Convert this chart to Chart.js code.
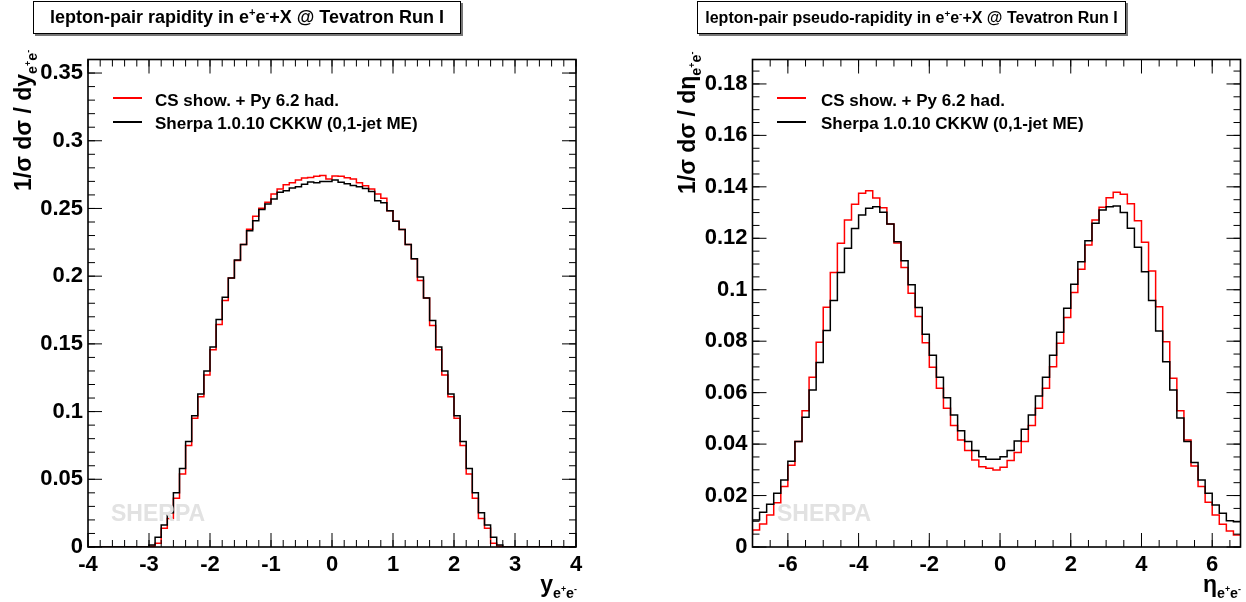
<!DOCTYPE html>
<html><head><meta charset="utf-8">
<script src="https://cdn.jsdelivr.net/npm/chart.js@4.4.1/dist/chart.umd.min.js"></script>
<style>
html,body{margin:0;padding:0;background:#fff;}
body{width:1246px;height:602px;position:relative;overflow:hidden;font-family:"Liberation Sans",Arial,Helvetica,sans-serif;font-weight:bold;color:#000;}
canvas{position:absolute;top:0;}
.tbox{position:absolute;top:1px;height:33px;box-sizing:border-box;border:1px solid #000;box-shadow:2px 2px 0 #777;background:#fff;text-align:center;white-space:nowrap;line-height:31px;}
.leg{position:absolute;font-size:17px;white-space:nowrap;line-height:17px;}
.legline{position:absolute;height:1.5px;width:29px;}
.ytitle{position:absolute;font-size:23px;white-space:nowrap;transform-origin:0 0;transform:rotate(-90deg);line-height:26px;}
.xtitle{position:absolute;font-size:23px;white-space:nowrap;line-height:26px;}
.wm{position:absolute;font-size:23px;line-height:23px;color:#e2e2e2;}
sub,sup{font-size:0.62em;line-height:0;}
</style>
</head><body>
<canvas id="c1" width="623" height="602" style="left:0;width:623px;height:602px"></canvas>
<canvas id="c2" width="623" height="602" style="left:623px;width:623px;height:602px"></canvas>

<div class="tbox" style="left:33px;width:428px;font-size:18px"><span>lepton-pair rapidity in e<sup>+</sup>e<sup>-</sup>+X @ Tevatron Run I</span></div>
<div class="tbox" style="left:697px;width:429px;font-size:16px"><span>lepton-pair pseudo-rapidity in e<sup>+</sup>e<sup>-</sup>+X @ Tevatron Run I</span></div>

<div class="legline" style="left:113px;top:97px;background:#ff0000"></div>
<div class="leg" style="left:155px;top:92px">CS show. + Py 6.2 had.</div>
<div class="legline" style="left:113px;top:121px;background:#000"></div>
<div class="leg" style="left:155px;top:115px">Sherpa 1.0.10 CKKW (0,1-jet ME)</div>

<div class="legline" style="left:777px;top:97px;background:#ff0000"></div>
<div class="leg" style="left:821px;top:92px">CS show. + Py 6.2 had.</div>
<div class="legline" style="left:777px;top:121px;background:#000"></div>
<div class="leg" style="left:821px;top:115px">Sherpa 1.0.10 CKKW (0,1-jet ME)</div>

<div class="wm" style="left:111px;top:502px">SHERPA</div>
<div class="wm" style="left:777px;top:502px">SHERPA</div>

<div class="ytitle" id="yt1">1/&sigma; d&sigma; / dy<sub>e<sup>+</sup>e<sup>-</sup></sub></div>
<div class="ytitle" id="yt2">1/&sigma; d&sigma; / d&eta;<sub>e<sup>+</sup>e<sup>-</sup></sub></div>
<div class="xtitle" style="right:669px;top:571px">y<sub>e<sup>+</sup>e<sup>-</sup></sub></div>
<div class="xtitle" style="right:5px;top:571px">&eta;<sub>e<sup>+</sup>e<sup>-</sup></sub></div>

<script>
// ---------- data ----------
const rapLow = -4, rapWidth = 0.1;   // 80 bins, -4 .. 4
const rapSherpa = [0,0,0,0,0,0,0,0,0,0,0,
  0.0015,0.0072,0.0162,0.0253,0.040,0.058,0.078,0.097,0.113,0.130,
  0.1477,0.168,0.1845,0.1987,0.212,0.2233,0.2336,0.241,0.2493,0.2533,
  0.257,0.2619,0.2631,0.2651,0.2661,0.2678,0.2695,0.269,0.270,0.270,
  0.271,0.2693,0.2683,0.267,0.2661,0.2648,0.2626,0.2557,0.2543,0.2484,
  0.2405,0.2344,0.2233,0.2128,0.1993,0.1838,0.1673,0.1477,0.130,0.113,
  0.097,0.078,0.058,0.040,0.0253,0.0162,0.0072,0.0015,
  0,0,0,0,0,0,0,0,0,0,0];
const rapCS = [0,0,0,0,0,0,0,0,0,0,0,
  0.0005,0.0027,0.0138,0.021,0.036,0.054,0.075,0.095,0.111,0.127,
  0.1457,0.1644,0.182,0.1987,0.2115,0.2233,0.2346,0.2442,0.2501,0.2545,
  0.2607,0.2643,0.2675,0.269,0.271,0.2725,0.2729,0.2737,0.2744,0.2717,
  0.2739,0.2737,0.2727,0.2717,0.269,0.2668,0.2643,0.2607,0.2575,0.2484,
  0.2405,0.2344,0.2233,0.2128,0.1968,0.1838,0.1636,0.1457,0.127,0.111,
  0.095,0.075,0.054,0.036,0.021,0.0138,0.0027,0.0005,
  0,0,0,0,0,0,0,0,0,0,0];

const etaLow = -7, etaWidth = 0.2;   // 70 bins, -7 .. 7
const etaSherpa = [0.0098,0.0105,0.0135,0.0166,0.0209,0.026,0.0333,0.041,0.0504,0.061,
  0.0717,0.0842,0.0958,0.1067,0.1161,0.1238,0.1291,0.1317,0.1323,0.1301,
  0.1256,0.1187,0.1113,0.1019,0.0931,0.0827,0.0745,0.066,0.058,0.0513,
  0.0452,0.041,0.0375,0.0351,0.0341,0.0341,0.0351,0.0375,0.0412,0.0458,
  0.0513,0.0587,0.066,0.0745,0.0835,0.0928,0.1021,0.1109,0.119,0.1258,
  0.131,0.1323,0.1326,0.130,0.1239,0.1165,0.107,0.0958,0.084,0.072,
  0.061,0.0501,0.041,0.0328,0.026,0.0209,0.0163,0.0131,0.0102,0.0098];
const etaCS = [0.0047,0.0066,0.0089,0.0124,0.0172,0.0235,0.0318,0.041,0.053,0.066,
  0.0796,0.0932,0.1067,0.1181,0.1271,0.1332,0.1375,0.1385,0.1357,0.1319,
  0.1256,0.1182,0.1086,0.0986,0.0896,0.0794,0.0699,0.0617,0.0539,0.0472,
  0.0416,0.0375,0.0338,0.0312,0.0306,0.0299,0.031,0.0336,0.0367,0.041,
  0.0472,0.0539,0.0617,0.0701,0.0792,0.0892,0.0989,0.108,0.1174,0.1271,
  0.1321,0.1358,0.1379,0.1371,0.1334,0.1268,0.1185,0.1073,0.0934,0.0798,
  0.0656,0.053,0.0416,0.0315,0.0235,0.0174,0.0124,0.0088,0.0062,0.0047];

const rapXTicks = [-4,-3,-2,-1,0,1,2,3,4];
const rapYTicks = [0,0.05,0.1,0.15,0.2,0.25,0.3,0.35];
const etaXTicks = [-6,-4,-2,0,2,4,6];
const etaYTicks = [0,0.02,0.04,0.06,0.08,0.1,0.12,0.14,0.16,0.18];

const labelCS = 'CS show. + Py 6.2 had.';
const labelSherpa = 'Sherpa 1.0.10 CKKW (0,1-jet ME)';

// ---------- helpers ----------
function steps(lo, w, vals) {
  const pts = vals.map((v, i) => ({x: +(lo + i * w).toFixed(4), y: v}));
  pts.push({x: +(lo + vals.length * w).toFixed(4), y: vals[vals.length - 1]});
  return pts;
}
function range(a, b, s) { const r = []; for (let v = a; v <= b + 1e-9; v += s) r.push(+v.toFixed(4)); return r; }
function fmt(v) { return String(+(+v).toFixed(3)); }

function rootAxes(cfg) {
  return {
    id: 'rootAxes',
    afterDatasetsDraw(chart) {
      const {ctx, chartArea: a, scales: {x, y}} = chart;
      ctx.save();
      ctx.strokeStyle = '#000';
      ctx.lineWidth = 1;
      ctx.beginPath();
      const xt = (v, len) => { const p = x.getPixelForValue(v); if (p < a.left - 0.5 || p > a.right + 0.5) return;
        ctx.moveTo(p, a.bottom); ctx.lineTo(p, a.bottom - len); ctx.moveTo(p, a.top); ctx.lineTo(p, a.top + len); };
      const yt = (v, len) => { const p = y.getPixelForValue(v); if (p < a.top - 0.5 || p > a.bottom + 0.5) return;
        ctx.moveTo(a.left, p); ctx.lineTo(a.left + len, p); ctx.moveTo(a.right, p); ctx.lineTo(a.right - len, p); };
      cfg.xMinor.forEach(v => xt(v, 7));
      cfg.xMajor.forEach(v => xt(v, 14));
      cfg.yMinor.forEach(v => yt(v, 7));
      cfg.yMajor.forEach(v => yt(v, 14));
      ctx.stroke();
      ctx.lineWidth = 1.6;
      ctx.strokeRect(a.left, a.top, a.right - a.left, a.bottom - a.top);
      ctx.restore();
    }
  };
}

function makeChart(id, c) {
  const font = {family: '"Liberation Sans", Arial, sans-serif', size: 22, weight: 'bold'};
  return new Chart(document.getElementById(id), {
    type: 'line',
    data: {datasets: [
      {label: labelSherpa, data: steps(c.lo, c.w, c.sherpa), borderColor: '#000000', borderWidth: 1.5,
       stepped: 'after', pointRadius: 0, fill: false},
      {label: labelCS, data: steps(c.lo, c.w, c.cs), borderColor: '#ff0000', borderWidth: 1.5,
       stepped: 'after', pointRadius: 0, fill: false}
    ]},
    options: {
      responsive: false, animation: false, devicePixelRatio: 1,
      layout: {padding: {top: 59.5, right: c.padRight, left: 0, bottom: 0}},
      plugins: {legend: {display: false}, tooltip: {enabled: false}},
      scales: {
        x: {type: 'linear', min: c.xmin, max: c.xmax,
            grid: {display: false, drawTicks: false}, border: {display: false},
            ticks: {font, color: '#000', padding: 5, maxRotation: 0, autoSkip: false, callback: fmt},
            afterBuildTicks: s => { s.ticks = c.xTicks.map(v => ({value: v})); },
            afterFit: s => { s.height = 55; }},
        y: {type: 'linear', min: 0, max: c.ymax,
            grid: {display: false, drawTicks: false}, border: {display: false},
            ticks: {font, color: '#000', padding: 5, autoSkip: false, callback: fmt},
            afterBuildTicks: s => { s.ticks = c.yTicks.map(v => ({value: v})); },
            afterFit: s => { s.width = c.left; }}
      }
    },
    plugins: [rootAxes({xMajor: c.xTicks, xMinor: c.xMinor, yMajor: c.yTicks, yMinor: c.yMinor})]
  });
}

makeChart('c1', {lo: rapLow, w: rapWidth, sherpa: rapSherpa, cs: rapCS,
  xmin: -4, xmax: 4, ymax: 0.36, xTicks: rapXTicks, yTicks: rapYTicks,
  xMinor: range(-4, 4, 0.2), yMinor: range(0, 0.36, 0.01), left: 88, padRight: 47});
makeChart('c2', {lo: etaLow, w: etaWidth, sherpa: etaSherpa, cs: etaCS,
  xmin: -7, xmax: 6.8, ymax: 0.1895, xTicks: etaXTicks, yTicks: etaYTicks,
  xMinor: range(-7, 6.8, 0.5), yMinor: range(0, 0.19, 0.005), left: 129.5, padRight: 5.5});

function placeV(id, x, yTop) { const el = document.getElementById(id); const w = el.offsetWidth; el.style.left = x + 'px'; el.style.top = (yTop + w) + 'px'; }
placeV('yt1', 10, 50);
placeV('yt2', 674, 52);
</script>
</body></html>
